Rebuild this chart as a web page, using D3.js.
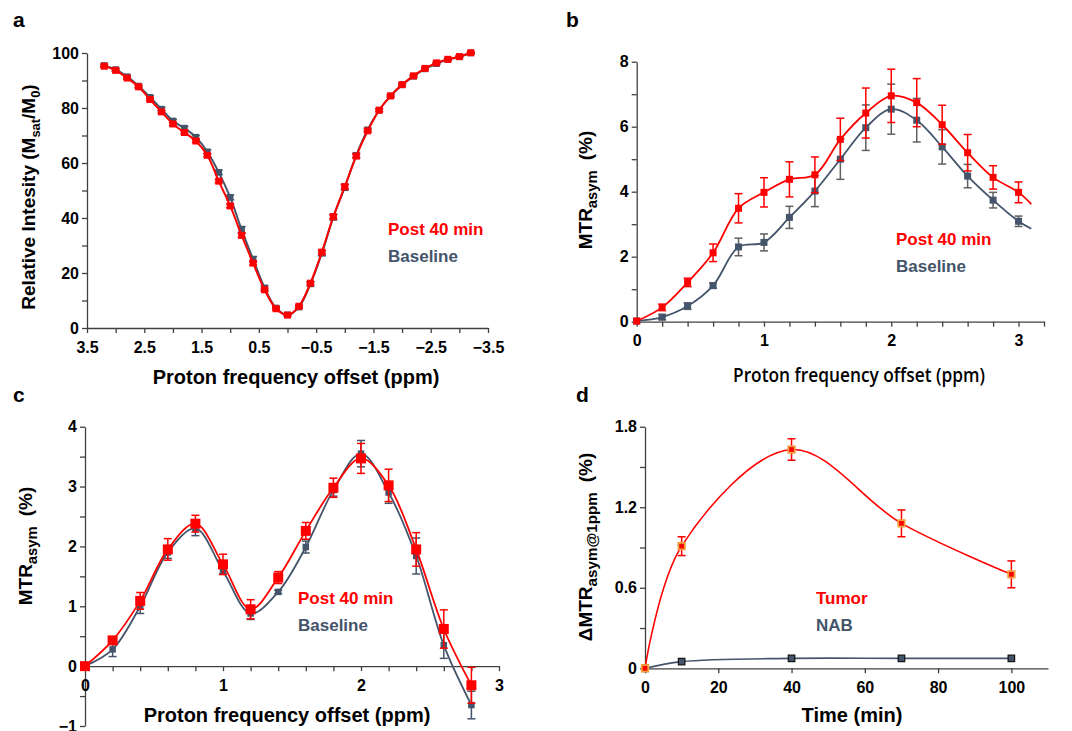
<!DOCTYPE html>
<html>
<head>
<meta charset="utf-8">
<script src="https://cdn.jsdelivr.net/npm/d3@7"></script>
<style>
  body { margin: 0; background: #fff; }
  svg { display: block; }
  text { font-family: Arial, "Liberation Sans", sans-serif; font-weight: bold; }
</style>
</head>
<body>
<svg id="chart" width="1072" height="731"></svg>
<script>
var red = "#FF0000";
var slate = "#44546A";

// ---- panel a: z-spectra ----
var aOffsets = [3.2, 3.0, 2.8, 2.6, 2.4, 2.2, 2.0, 1.8, 1.6, 1.4, 1.2, 1.0, 0.8, 0.6, 0.4, 0.2, 0,
  -0.2, -0.4, -0.6, -0.8, -1.0, -1.2, -1.4, -1.6, -1.8, -2.0, -2.2, -2.4, -2.6, -2.8, -3.0, -3.2];
var aPost = [95.2, 93.7, 90.9, 87.7, 83.1, 78.6, 74.2, 71.1, 68.0, 62.8, 53.4, 44.4, 33.7, 23.6, 13.9, 7.0, 4.7,
  7.9, 16.3, 27.6, 40.5, 51.4, 62.5, 71.7, 79.2, 84.4, 88.5, 91.7, 94.4, 96.4, 97.7, 98.7, 100.1];
var aBase = [95.5, 94.0, 91.4, 88.0, 83.9, 79.6, 75.3, 72.7, 69.4, 64.1, 56.6, 47.5, 35.7, 25.0, 14.6, 7.3, 4.8,
  7.6, 16.0, 27.2, 40.3, 51.2, 62.8, 72.1, 79.2, 84.4, 88.4, 91.5, 94.2, 96.1, 97.6, 98.6, 100.0];
var aPostErr = [0.4, 0.4, 0.4, 0.4, 0.5, 0.5, 0.5, 0.5, 0.5, 0.6, 0.6, 0.7, 0.8, 0.7, 0.6, 0.4, 0.3,
  0.4, 0.5, 0.6, 0.7, 0.7, 0.6, 0.5, 0.5, 0.4, 0.4, 0.4, 0.3, 0.3, 0.3, 0.3, 0.3];
var aBaseErr = [0.5, 0.5, 0.5, 0.5, 0.6, 0.6, 0.6, 0.6, 0.6, 0.7, 0.8, 0.9, 1.2, 1.0, 0.8, 0.5, 0.4,
  0.5, 0.7, 0.9, 1.0, 1.1, 0.8, 0.6, 0.5, 0.4, 0.4, 0.4, 0.3, 0.3, 0.3, 0.3, 0.3];
var aXTicks = [3.5, 2.5, 1.5, 0.5, -0.5, -1.5, -2.5, -3.5];
var aXMinor = [3, 2, 1, 0, -1, -2, -3];
var aYTicks = [0, 20, 40, 60, 80, 100];
var aYMinor = [10, 30, 50, 70, 90];

// ---- panel b: MTRasym ----
var bOffsets = [0, 0.2, 0.4, 0.6, 0.8, 1.0, 1.2, 1.4, 1.6, 1.8, 2.0, 2.2, 2.4, 2.6, 2.8, 3.0];
var bPost = [0.02, 0.44, 1.21, 2.12, 3.49, 3.98, 4.38, 4.52, 5.61, 6.42, 6.95, 6.74, 6.06, 5.2, 4.44, 3.98];
var bPostErr = [0, 0.1, 0.13, 0.27, 0.45, 0.45, 0.54, 0.55, 0.65, 0.77, 0.82, 0.74, 0.6, 0.56, 0.36, 0.32];
var bBase = [0.02, 0.14, 0.48, 1.11, 2.3, 2.44, 3.21, 4.02, 5.0, 5.97, 6.54, 6.2, 5.38, 4.48, 3.74, 3.09];
var bBaseErr = [0, 0.08, 0.1, 0.08, 0.27, 0.26, 0.34, 0.48, 0.62, 0.7, 0.77, 0.67, 0.53, 0.36, 0.24, 0.16];
// curves run a little past the last marker
var bTailOffset = 3.1;
var bPostTail = 3.62;
var bBaseTail = 2.86;
var bXTicks = [0, 1, 2, 3];
var bXMinor = [0.2, 0.4, 0.6, 0.8, 1.2, 1.4, 1.6, 1.8, 2.2, 2.4, 2.6, 2.8, 3.2];
var bYTicks = [0, 2, 4, 6, 8];
var bYMinor = [1, 3, 5, 7];

// ---- panel c: MTRasym (second case) ----
var cOffsets = [0, 0.2, 0.4, 0.6, 0.8, 1.0, 1.2, 1.4, 1.6, 1.8, 2.0, 2.2, 2.4, 2.6, 2.8];
var cPost = [0, 0.43, 1.09, 1.95, 2.38, 1.70, 0.95, 1.48, 2.26, 2.98, 3.47, 3.02, 1.95, 0.62, -0.32];
var cPostErr = [0, 0.06, 0.14, 0.18, 0.14, 0.17, 0.16, 0.1, 0.14, 0.16, 0.25, 0.27, 0.28, 0.32, 0.3];
var cBase = [0, 0.28, 1.0, 1.9, 2.3, 1.59, 0.88, 1.24, 1.99, 2.94, 3.55, 2.90, 1.84, 0.35, -0.65];
var cBaseErr = [0, 0.12, 0.12, 0.1, 0.12, 0.05, 0.1, 0.03, 0.1, 0.1, 0.22, 0.18, 0.3, 0.22, 0.23];
var cXTicks = [0, 1, 2, 3];
var cXMinor = [0.2, 0.4, 0.6, 0.8, 1.2, 1.4, 1.6, 1.8, 2.2, 2.4, 2.6, 2.8];
var cYTicks = [-1, 0, 1, 2, 3, 4];
var cYMinor = [-0.5, 0.5, 1.5, 2.5, 3.5];

// ---- panel d: time course ----
var dTime = [0, 10, 40, 70, 100];
var dTumor = [0, 0.91, 1.63, 1.08, 0.70];
var dTumorErr = [0, 0.07, 0.08, 0.1, 0.1];
var dNab = [0, 0.05, 0.074, 0.074, 0.074];
var dNabErr = [0, 0, 0, 0, 0];
var dXTicks = [0, 20, 40, 60, 80, 100];
var dYTicks = [0, 0.6, 1.2, 1.8];
var dYMinor = [0.3, 0.9, 1.5];

var svg = d3.select("#chart");
svg.append("rect").attr("width", 1072).attr("height", 731).attr("fill", "#fff");

function zip(xs, ys, es) {
  return xs.map((x, i) => ({ x: x, y: ys[i], e: es ? es[i] : 0 }));
}

function drawAxis(axis, major, minor, fmt, transform) {
  var all = major.concat(minor);
  var g = svg.append("g")
    .attr("transform", transform)
    .call(axis.tickValues(all).tickSize(5).tickSizeOuter(0)
      .tickFormat((d) => (major.indexOf(d) >= 0 ? fmt(d) : "")));
  g.select(".domain").attr("stroke", "#404040").attr("stroke-width", 1.3);
  g.selectAll(".tick line").attr("stroke", "#404040").attr("stroke-width", 1.3);
  g.selectAll(".tick text")
    .attr("fill", "#000")
    .style("font-size", "16px")
    .style("font-weight", "bold");
  return g;
}

function drawSeries(pts, xScale, yScale, opt) {
  var g = svg.append("g");
  var line = d3.line()
    .x((d) => xScale(d.x))
    .y((d) => yScale(d.y))
    .curve(d3.curveCatmullRom.alpha(0.5));
  g.append("path")
    .datum(opt.linePts || pts)
    .attr("fill", "none")
    .attr("stroke", opt.color)
    .attr("stroke-width", opt.lineWidth || 1.8)
    .attr("d", line);

  var cap = opt.cap || 4;
  var eb = g.selectAll(".eb").data(pts.filter((d) => d.e > 0)).enter().append("g")
    .attr("stroke", opt.errColor || opt.color)
    .attr("stroke-width", 1.5);
  eb.append("line")
    .attr("x1", (d) => xScale(d.x)).attr("x2", (d) => xScale(d.x))
    .attr("y1", (d) => yScale(d.y - d.e)).attr("y2", (d) => yScale(d.y + d.e));
  eb.append("line")
    .attr("x1", (d) => xScale(d.x) - cap).attr("x2", (d) => xScale(d.x) + cap)
    .attr("y1", (d) => yScale(d.y + d.e)).attr("y2", (d) => yScale(d.y + d.e));
  eb.append("line")
    .attr("x1", (d) => xScale(d.x) - cap).attr("x2", (d) => xScale(d.x) + cap)
    .attr("y1", (d) => yScale(d.y - d.e)).attr("y2", (d) => yScale(d.y - d.e));

  var s = opt.size;
  g.selectAll(".mk").data(pts).enter().append("rect")
    .attr("x", (d) => xScale(d.x) - s / 2)
    .attr("y", (d) => yScale(d.y) - s / 2)
    .attr("width", s)
    .attr("height", s)
    .attr("fill", opt.fill || opt.color)
    .attr("stroke", opt.stroke || "none")
    .attr("stroke-width", opt.strokeWidth || 1);
}

function panelLetter(txt, x, y) {
  svg.append("text").attr("x", x).attr("y", y).style("font-size", "21px").text(txt);
}

function legend(items, x, y) {
  items.forEach((it, i) => {
    svg.append("text")
      .attr("x", x).attr("y", y + i * 27)
      .attr("fill", it.color)
      .style("font-size", "17px")
      .text(it.label);
  });
}

// rotated axis title with subscript parts
function yLabel(cx, cy, parts, size, subRatio) {
  var t = svg.append("text")
    .attr("transform", `translate(${cx},${cy}) rotate(-90)`)
    .attr("text-anchor", "middle")
    .style("font-size", size + "px");
  parts.forEach((p) => {
    var ts = t.append("tspan").text(p.t);
    if (p.sub) {
      ts.attr("dy", 5).style("font-size", (size * subRatio) + "px");
    } else if (p.back) {
      ts.attr("dy", -5);
      if (p.gap) ts.attr("dx", p.gap);
    }
  });
}

function xLabel(cx, cy, txt, size) {
  return svg.append("text")
    .attr("x", cx).attr("y", cy)
    .attr("text-anchor", "middle")
    .style("font-size", size + "px")
    .text(txt);
}

// ================= panel a =================
var ax = d3.scaleLinear().domain([3.5, -3.5]).range([87, 488]);
var ay = d3.scaleLinear().domain([0, 100]).range([328, 53]);
drawAxis(d3.axisLeft(ay), aYTicks, aYMinor, d3.format("d"), "translate(87,0)");
var aAx = drawAxis(d3.axisBottom(ax), aXTicks, aXMinor, d3.format(".1f"), "translate(0,328)");
aAx.selectAll(".tick text").attr("dy", "1.05em");
drawSeries(zip(aOffsets, aBase, aBaseErr), ax, ay, { color: slate, size: 6.5, lineWidth: 2 });
drawSeries(zip(aOffsets, aPost, aPostErr), ax, ay, { color: red, size: 7, lineWidth: 2 });
panelLetter("a", 13, 27);
legend([{ label: "Post 40 min", color: red }, { label: "Baseline", color: slate }], 388, 235);
yLabel(35, 197, [{ t: "Relative Intesity (M" }, { t: "sat", sub: true }, { t: "/M", back: true },
  { t: "0", sub: true }, { t: ")", back: true }], 19, 0.68);
xLabel(296, 384, "Proton frequency offset (ppm)", 20);

// ================= panel b =================
var bx = d3.scaleLinear().domain([0, 3.2]).range([636.7, 1044]);
var by = d3.scaleLinear().domain([0, 8]).range([321.7, 61.7]);
drawAxis(d3.axisLeft(by), bYTicks, bYMinor, d3.format("d"), "translate(636.7,0)");
var bAx = drawAxis(d3.axisBottom(bx), bXTicks, bXMinor, d3.format("d"), "translate(0,321.7)");
bAx.selectAll(".tick text").attr("dy", "1.05em");
var bBasePts = zip(bOffsets, bBase, bBaseErr);
var bPostPts = zip(bOffsets, bPost, bPostErr);
drawSeries(bBasePts, bx, by, {
  color: slate, errColor: "#5f5f5f", size: 7, lineWidth: 1.8,
  linePts: bBasePts.concat([{ x: bTailOffset, y: bBaseTail, e: 0 }])
});
drawSeries(bPostPts, bx, by, {
  color: red, size: 7, lineWidth: 1.8,
  linePts: bPostPts.concat([{ x: bTailOffset, y: bPostTail, e: 0 }])
});
panelLetter("b", 566, 27);
legend([{ label: "Post 40 min", color: red }, { label: "Baseline", color: slate }], 896, 245);
yLabel(592, 190, [{ t: "MTR" }, { t: "asym", sub: true }, { t: "(%)", back: true, gap: 10 }], 19, 0.78);
xLabel(859, 382, "Proton frequency offset (ppm)", 19)
  .style("font-family", "'Open Sans', sans-serif")
  .style("font-weight", "600")
  .attr("textLength", 252)
  .attr("lengthAdjust", "spacingAndGlyphs");

// ================= panel c =================
var cx = d3.scaleLinear().domain([0, 3]).range([85, 499]);
var cy = d3.scaleLinear().domain([-1, 4]).range([726, 426.7]);
drawAxis(d3.axisLeft(cy), cYTicks, cYMinor, d3.format("d"), "translate(85,0)");
var cAx = drawAxis(d3.axisBottom(cx), cXTicks, cXMinor, d3.format("d"), `translate(0,${cy(0)})`);
cAx.selectAll(".tick text").attr("dy", "1.05em");
drawSeries(zip(cOffsets, cBase, cBaseErr), cx, cy, { color: slate, size: 6.5, lineWidth: 1.8 });
drawSeries(zip(cOffsets, cPost, cPostErr), cx, cy, { color: red, size: 10, lineWidth: 1.8 });
panelLetter("c", 13, 402);
legend([{ label: "Post 40 min", color: red }, { label: "Baseline", color: slate }], 298, 604);
yLabel(32, 546, [{ t: "MTR" }, { t: "asym", sub: true }, { t: "(%)", back: true, gap: 10 }], 19, 0.78);
xLabel(287, 722, "Proton frequency offset (ppm)", 20);

// ================= panel d =================
var dx = d3.scaleLinear().domain([0, 110]).range([645, 1048]);
var dy = d3.scaleLinear().domain([0, 1.8]).range([668.3, 426.7]);
drawAxis(d3.axisLeft(dy), dYTicks, dYMinor, (d) => (d === 0 ? "0" : d3.format(".1f")(d)), "translate(645,0)");
var dAx = drawAxis(d3.axisBottom(dx), dXTicks, [], d3.format("d"), "translate(0,668.3)");
dAx.selectAll(".tick text").attr("dy", "1.05em");
drawSeries(zip(dTime, dNab, dNabErr), dx, dy, {
  color: slate, fill: slate, stroke: "#111", strokeWidth: 1.2, size: 6.5, lineWidth: 1.6
});
drawSeries(zip(dTime, dTumor, dTumorErr), dx, dy, {
  color: red, fill: red, stroke: "#F5A040", strokeWidth: 1.8, size: 6.5, lineWidth: 1.6
});
panelLetter("d", 576, 402);
legend([{ label: "Tumor", color: red }, { label: "NAB", color: slate }], 816, 604);
yLabel(592, 547, [{ t: "\u0394MTR" }, { t: "asym@1ppm", sub: true }, { t: "(%)", back: true, gap: 10 }], 19, 0.8);
xLabel(852, 722, "Time (min)", 20);
</script>
</body>
</html>
